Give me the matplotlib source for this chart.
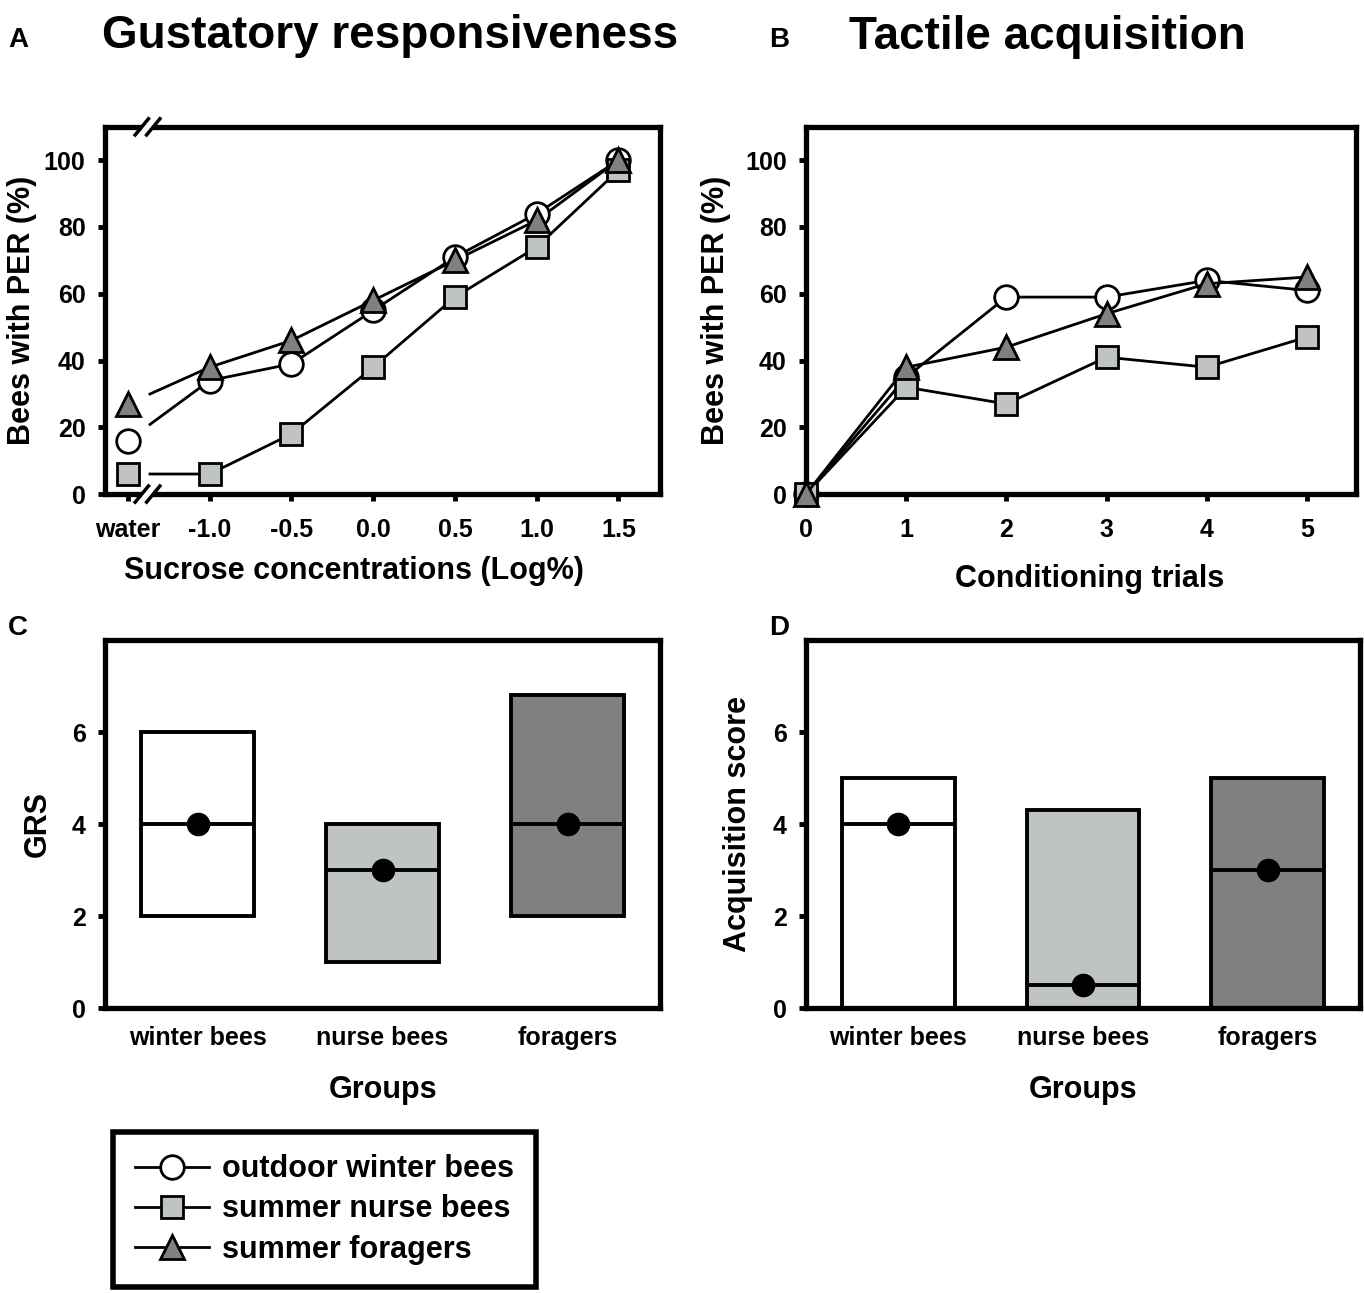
import matplotlib
matplotlib.use("Agg")
import matplotlib.pyplot as plt
import numpy as np

plt.rcParams["font.family"] = ["Liberation Sans", "DejaVu Sans"]
plt.rcParams["font.weight"] = "bold"

# panel A: gustatory responsiveness
conc_labels = ["water", "-1.0", "-0.5", "0.0", "0.5", "1.0", "1.5"]
grs_winter = [16, 34, 39, 55, 71, 84, 100]
grs_nurse = [6, 6, 18, 38, 59, 74, 97]
grs_forager = [27, 38, 46, 58, 70, 82, 100]

# panel B: tactile acquisition
trials = [0, 1, 2, 3, 4, 5]
acq_winter = [0, 35, 59, 59, 64, 61]
acq_nurse = [0, 32, 27, 41, 38, 47]
acq_forager = [0, 38, 44, 54, 63, 65]

# panels C and D: median / quartiles
groups = ["winter bees", "nurse bees", "foragers"]
grs_q1 = [2, 1, 2]
grs_med = [4, 3, 4]
grs_q3 = [6, 4, 6.8]
acq_q1 = [0, 0, 0]
acq_med = [4, 0.5, 3]
acq_q3 = [5, 4.3, 5]

series_names = ["outdoor winter bees", "summer nurse bees", "summer foragers"]
markers = ["o", "s", "^"]
fills = ["white", "#c0c4c0", "#808080"]
msizes = [17, 16, 17]

TICK = 18
LAB = 22
SPW = 3.8


def style(ax):
    for s in ax.spines.values():
        s.set_linewidth(SPW)
    ax.tick_params(direction="out", length=5, width=3.5, labelsize=TICK, pad=9)
    for lab in ax.get_xticklabels() + ax.get_yticklabels():
        lab.set_fontweight("bold")


fig = plt.figure(figsize=(13.64, 12.93), dpi=100)
axA = fig.add_axes([0.077, 0.6179, 0.407, 0.284])
axB = fig.add_axes([0.591, 0.6179, 0.403, 0.284])
axC = fig.add_axes([0.077, 0.2204, 0.407, 0.2846])
axD = fig.add_axes([0.591, 0.2204, 0.406, 0.2846])

# ---- A ----
xa = np.arange(len(conc_labels))
gap = 0.27  # fraction of first segment hidden by the axis break
handles = []
for ys, m, fc, ms, name in zip([grs_winter, grs_nurse, grs_forager], markers, fills, msizes, series_names):
    ys = np.array(ys, dtype=float)
    x0 = xa[0] + gap * (xa[1] - xa[0])
    y0 = ys[0] + gap * (ys[1] - ys[0])
    axA.plot(np.r_[x0, xa[1:]], np.r_[y0, ys[1:]], color="black", lw=2, zorder=2)
    axA.plot(xa, ys, ls="none", marker=m, ms=ms, mfc=fc, mec="black", mew=2, zorder=3, clip_on=False)
    h, = axB.plot([], [], color="black", lw=2, marker=m, ms=ms, mfc=fc, mec="black", mew=2, label=name)
    handles.append(h)
axA.set_xlim(-0.28, 6.51)
axA.set_ylim(0, 110)
axA.set_xticks(xa)
axA.set_xticklabels(conc_labels)
axA.set_yticks([0, 20, 40, 60, 80, 100])
axA.set_ylabel("Bees with PER (%)", fontsize=LAB, fontweight="bold", labelpad=5)
axA.set_xlabel("Sucrose concentrations (Log%)", fontsize=LAB, fontweight="bold")
axA.xaxis.set_label_coords(0.449, -0.168)
style(axA)
axA.tick_params(axis="x", pad=12)

# axis break marks on top and bottom spines
xb0 = (0.17 + 0.28) / 6.79
xb1 = (0.31 + 0.28) / 6.79
for yb in (0, 1):
    axA.plot([xb0, xb1], [yb, yb], transform=axA.transAxes, color="white", lw=6,
             solid_capstyle="butt", clip_on=False, zorder=5)
    for xc in (xb0, xb1):
        axA.plot([xc - 0.012, xc + 0.012], [yb - 0.022, yb + 0.022], transform=axA.transAxes,
                 color="black", lw=2.5, clip_on=False, zorder=6)

# ---- B ----
for ys, m, fc, ms in zip([acq_winter, acq_nurse, acq_forager], markers, fills, msizes):
    axB.plot(trials, ys, color="black", lw=2, marker=m, ms=ms, mfc=fc, mec="black", mew=2,
             zorder=3, clip_on=False)
axB.set_xlim(0, 5.49)
axB.set_ylim(0, 110)
axB.set_xticks(trials)
axB.set_yticks([0, 20, 40, 60, 80, 100])
axB.set_ylabel("Bees with PER (%)", fontsize=LAB, fontweight="bold", labelpad=10)
axB.set_xlabel("Conditioning trials", fontsize=LAB, fontweight="bold")
axB.xaxis.set_label_coords(0.516, -0.19)
style(axB)
axB.tick_params(axis="x", pad=12)

# ---- C, D ----
for ax, q1, med, q3, ylab in [(axC, grs_q1, grs_med, grs_q3, "GRS"),
                              (axD, acq_q1, acq_med, acq_q3, "Acquisition score")]:
    xg = np.arange(len(groups))
    w = 0.61
    ax.bar(xg, np.array(q3) - np.array(q1), bottom=q1, width=w, color=fills,
           edgecolor="black", linewidth=2.8, zorder=2)
    ax.hlines(med, xg - w / 2, xg + w / 2, color="black", lw=2.8, zorder=3)
    ax.plot(xg, med, ls="none", marker="o", ms=16, color="black", zorder=4)
    ax.set_xlim(-0.5, 2.5)
    ax.set_ylim(0, 8)
    ax.set_yticks([0, 2, 4, 6])
    ax.set_xticks(xg)
    ax.set_xticklabels(groups)
    ax.set_ylabel(ylab, fontsize=LAB, fontweight="bold", labelpad=14)
    ax.set_xlabel("Groups", fontsize=LAB, fontweight="bold", labelpad=18)
    style(ax)
    ax.tick_params(axis="x", length=0, pad=13)

# titles and panel letters
fig.text(0.006, 0.969, "A", fontsize=20, fontweight="bold", va="center")
fig.text(0.564, 0.969, "B", fontsize=20, fontweight="bold", va="center")
fig.text(0.006, 0.514, "C", fontsize=20, fontweight="bold", va="center")
fig.text(0.564, 0.514, "D", fontsize=20, fontweight="bold", va="center")
fig.text(0.286, 0.972, "Gustatory responsiveness", fontsize=33, fontweight="bold", ha="center", va="center")
fig.text(0.768, 0.971, "Tactile acquisition", fontsize=33, fontweight="bold", ha="center", va="center")

leg = fig.legend(handles=handles, loc="lower left", bbox_to_anchor=(0.083, 0.005),
                 fontsize=22, frameon=True, fancybox=False, edgecolor="black", framealpha=1,
                 handlelength=2.4, handletextpad=0.45, labelspacing=0.33,
                 borderpad=0.72, borderaxespad=0)
leg.get_frame().set_linewidth(4)
for t in leg.get_texts():
    t.set_fontweight("bold")

fig.savefig("out.png", dpi=100)
